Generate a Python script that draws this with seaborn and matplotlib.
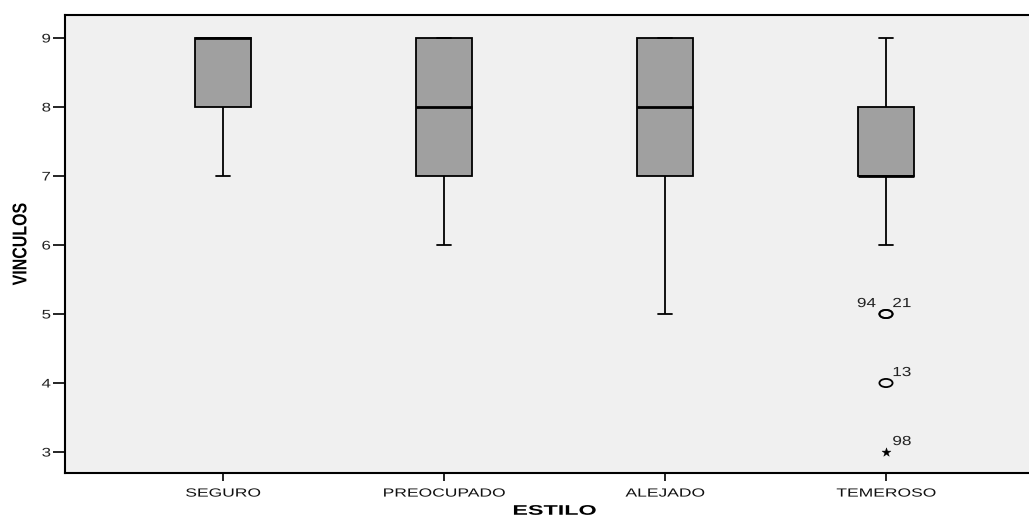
import numpy as np
import pandas as pd
import matplotlib
matplotlib.use("Agg")
import matplotlib.pyplot as plt
import seaborn as sns
from matplotlib.path import Path
from matplotlib.patheffects import AbstractPathEffect
from matplotlib.transforms import Affine2D

# ---- data ----
categories = ["SEGURO", "PREOCUPADO", "ALEJADO", "TEMEROSO"]
score_values = [3, 4, 5, 6, 7, 8, 9]
counts_seguro = [0, 0, 0, 0, 2, 5, 10]
counts_preocupado = [0, 0, 0, 2, 6, 6, 8]
counts_alejado = [0, 0, 1, 3, 5, 6, 7]
counts_temeroso = [1, 1, 2, 2, 10, 8, 3]

# labelled outlying cases (case number, group, value)
outlier_cases = ["94", "21", "13", "98"]
outlier_groups = ["TEMEROSO", "TEMEROSO", "TEMEROSO", "TEMEROSO"]
outlier_values = [5, 5, 4, 3]

y_ticks = [3, 4, 5, 6, 7, 8, 9]


class HStretch(AbstractPathEffect):
    """Widen text horizontally (screen x) about its own centre."""
    def __init__(self, sx):
        super().__init__()
        self.sx = sx

    def draw_path(self, renderer, gc, tpath, affine, rgbFace=None):
        verts = tpath.vertices
        if tpath.codes is not None:
            verts = verts[tpath.codes != Path.CLOSEPOLY]
        if len(verts):
            pts = affine.transform(verts)
            cx = (pts[:, 0].min() + pts[:, 0].max()) / 2
        else:
            cx = 0
        t = affine + Affine2D().translate(-cx, 0).scale(self.sx, 1).translate(cx, 0)
        renderer.draw_path(gc, tpath, t, rgbFace)


# ---- build long table ----
count_table = {
    "SEGURO": counts_seguro,
    "PREOCUPADO": counts_preocupado,
    "ALEJADO": counts_alejado,
    "TEMEROSO": counts_temeroso,
}
rows = []
for cat in categories:
    for v, c in zip(score_values, count_table[cat]):
        rows += [(cat, v)] * c
df = pd.DataFrame(rows, columns=["ESTILO", "VINCULOS"])

sns.set_theme(style="white")
plt.rcParams["font.family"] = ["Liberation Sans", "DejaVu Sans"]

W, H = 1029, 516
fig = plt.figure(figsize=(W / 100, H / 100), dpi=100)
fig.patch.set_facecolor("white")
left_px, right_px, top_px, bot_px = 65, 1044, 15, 473
ax = fig.add_axes([left_px / W, (H - bot_px) / H,
                   (right_px - left_px) / W, (bot_px - top_px) / H])
ax.set_facecolor("#F0F0F0")

box_w = 0.25
sns.boxplot(
    data=df, x="ESTILO", y="VINCULOS", order=categories, ax=ax,
    color="#A0A0A0", saturation=1, width=box_w, linecolor="black",
    linewidth=1.3, showfliers=False,
    medianprops=dict(linewidth=2.0, color="black"),
    capwidths=0.065,
)

# outliers / extremes per SPSS rule
pos = {c: i for i, c in enumerate(categories)}
ell = Path.unit_circle()
ell = Path(ell.vertices * np.array([1.0, 0.62]), ell.codes)
seen = {}
for case, g, v in zip(outlier_cases, outlier_groups, outlier_values):
    vals = df.loc[df["ESTILO"] == g, "VINCULOS"].to_numpy()
    q1, q3 = np.percentile(vals, [25, 75])
    iqr = q3 - q1
    extreme = v < q1 - 3 * iqr or v > q3 + 3 * iqr
    x = pos[g]
    if extreme:
        ax.scatter([x], [v], marker="*", s=45, color="black", linewidths=0.3, zorder=5)
    else:
        ax.scatter([x], [v], marker=ell, s=90, facecolors="none",
                   edgecolors="black", linewidths=1.3, zorder=5)
    n_same = sum(1 for gg, vv in zip(outlier_groups, outlier_values) if gg == g and vv == v)
    k = seen.get((g, v), 0)
    seen[(g, v)] = k + 1
    dx = -14 if (n_same > 1 and k == 0) else 11.5
    t = ax.annotate(case, (x, v), xytext=(dx, 5), textcoords="offset points",
                    ha="center", va="baseline", fontsize=9.5, color="#222222")
    t.set_path_effects([HStretch(1.3)])

ax.set_xlim(-0.715, 3.715)
ax.set_ylim(2.696, 9.333)
ax.set_yticks(y_ticks)
ax.set_yticklabels([str(t) for t in y_ticks])

for s in ["left", "top", "bottom"]:
    ax.spines[s].set_visible(True)
    ax.spines[s].set_color("black")
    ax.spines[s].set_linewidth(1.5)
ax.spines["right"].set_visible(False)

ax.tick_params(axis="y", direction="out", length=8.5, width=1.2, color="black",
               labelsize=9, labelcolor="#222222", pad=2.5, left=True)
ax.tick_params(axis="x", direction="out", length=6, width=1.2, color="black",
               labelsize=8.5, labelcolor="#111111", pad=4.5, bottom=True)
for lbl in ax.get_xticklabels():
    lbl.set_path_effects([HStretch(1.48)])
for lbl in ax.get_yticklabels():
    lbl.set_path_effects([HStretch(1.35)])

ax.set_xlabel("ESTILO", fontsize=10, fontweight="bold", color="black", labelpad=3)
ax.xaxis.label.set_path_effects([HStretch(1.68)])
ax.set_ylabel("VINCULOS", fontsize=11.5, fontweight="bold", color="black")
ax.yaxis.label.set_path_effects([HStretch(1.25)])
ax.yaxis.set_label_coords((28 - left_px) / (right_px - left_px), 0.5)
ax.grid(False)

fig.savefig("out.png", dpi=100, facecolor="white")
